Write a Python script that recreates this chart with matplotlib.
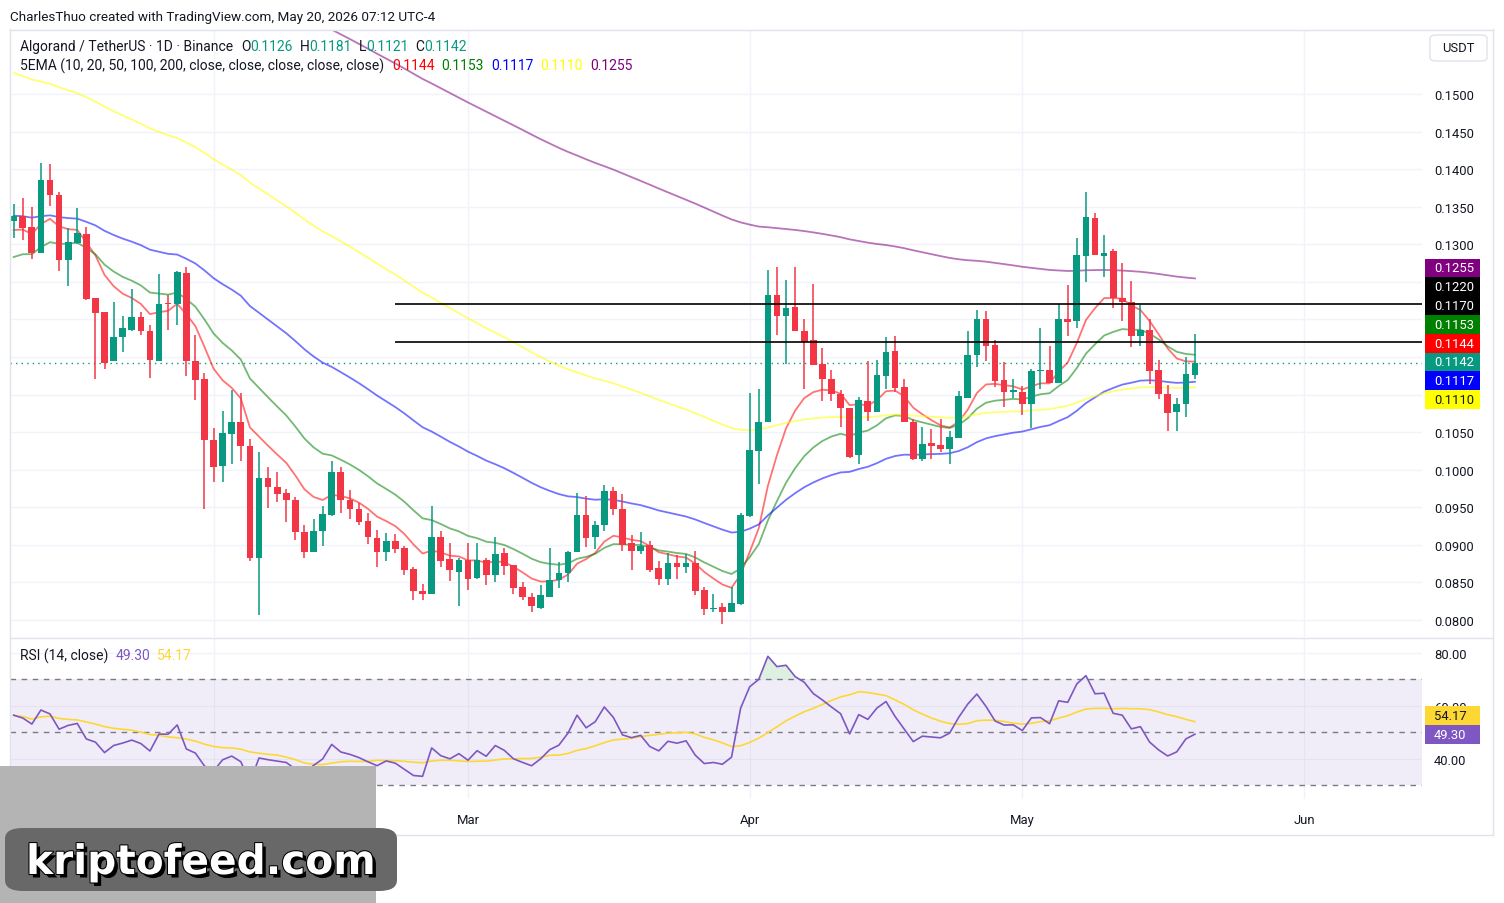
import numpy as np
import pandas as pd
import matplotlib
matplotlib.use("Agg")
import matplotlib.pyplot as plt
from matplotlib.patches import Rectangle, FancyBboxPatch
from matplotlib.lines import Line2D
import matplotlib.patheffects as pe

# ---------------- data (ALGO/USDT daily, Jan 10 - May 20 2026) ----------------
start_date = "2026-01-10"
opens = [0.1331,0.1337,0.1323,0.1288,0.1386,0.1366,0.1279,0.1302,0.1314,0.1229,
         0.1210,0.1144,0.1177,0.1186,0.1203,0.1185,0.1145,0.1221,0.1220,0.1262,
         0.1145,0.1121,0.1040,0.1005,0.1047,0.1063,0.1031,0.0883,0.0989,0.0977,
         0.0969,0.0960,0.0917,0.0890,0.0918,0.0940,0.0997,0.0960,0.0948,0.0932,
         0.0909,0.0891,0.0905,0.0896,0.0868,0.0839,0.0834,0.0910,0.0881,0.0864,
         0.0880,0.0856,0.0880,0.0860,0.0889,0.0873,0.0844,0.0831,0.0816,0.0831,
         0.0853,0.0862,0.0891,0.0940,0.0911,0.0926,0.0972,0.0948,0.0902,0.0892,
         0.0900,0.0869,0.0855,0.0876,0.0871,0.0876,0.0840,0.0815,0.0817,0.0811,
         0.0821,0.0939,0.1025,0.1064,0.1232,0.1204,0.1216,0.1185,0.1172,0.1141,
         0.1121,0.1101,0.1082,0.1019,0.1091,0.1077,0.1125,0.1158,0.1110,0.1064,
         0.1014,0.1036,0.1033,0.1028,0.1042,0.1096,0.1152,0.1201,0.1166,0.1119,
         0.1104,0.1104,0.1087,0.1131,0.1133,0.1116,0.1201,0.1198,0.1285,0.1335,
         0.1285,0.1291,0.1229,0.1223,0.1178,0.1186,0.1133,0.1101,0.1077,0.1088,
         0.1126]
highs = [0.1354,0.1362,0.1349,0.1408,0.1407,0.1370,0.1322,0.1348,0.1323,0.1229,
         0.1210,0.1223,0.1205,0.1240,0.1210,0.1193,0.1260,0.1232,0.1264,0.1270,
         0.1179,0.1129,0.1056,0.1078,0.1106,0.1102,0.1041,0.1024,0.1004,0.0997,
         0.0974,0.0963,0.0926,0.0934,0.0952,0.1012,0.1004,0.0973,0.0956,0.0943,
         0.0920,0.0916,0.0914,0.0899,0.0871,0.0848,0.0951,0.0918,0.0902,0.0883,
         0.0903,0.0902,0.0882,0.0911,0.0896,0.0873,0.0850,0.0836,0.0847,0.0896,
         0.0877,0.0892,0.0969,0.0965,0.0932,0.0980,0.0977,0.0968,0.0913,0.0917,
         0.0905,0.0878,0.0889,0.0886,0.0888,0.0892,0.0844,0.0835,0.0823,0.0844,
         0.0943,0.1102,0.1107,0.1266,0.1270,0.1252,0.1270,0.1201,0.1247,0.1162,
         0.1133,0.1106,0.1082,0.1097,0.1145,0.1146,0.1176,0.1178,0.1121,0.1068,
         0.1057,0.1054,0.1067,0.1051,0.1105,0.1185,0.1213,0.1211,0.1172,0.1143,
         0.1121,0.1112,0.1134,0.1189,0.1165,0.1221,0.1246,0.1309,0.1370,0.1342,
         0.1312,0.1294,0.1275,0.1251,0.1219,0.1200,0.1146,0.1113,0.1095,0.1150,
         0.1181]
lows = [0.1308,0.1306,0.1280,0.1288,0.1351,0.1264,0.1245,0.1300,0.1226,0.1121,
        0.1134,0.1144,0.1157,0.1185,0.1179,0.1122,0.1144,0.1186,0.1193,0.1125,
        0.1093,0.0948,0.0984,0.0983,0.1008,0.1012,0.0878,0.0807,0.0949,0.0957,
        0.0930,0.0906,0.0882,0.0890,0.0899,0.0939,0.0942,0.0934,0.0926,0.0901,
        0.0871,0.0878,0.0889,0.0860,0.0827,0.0827,0.0834,0.0871,0.0852,0.0818,
        0.0840,0.0854,0.0847,0.0851,0.0860,0.0835,0.0827,0.0811,0.0815,0.0831,
        0.0843,0.0850,0.0891,0.0897,0.0894,0.0918,0.0940,0.0892,0.0867,0.0888,
        0.0864,0.0847,0.0846,0.0855,0.0863,0.0833,0.0807,0.0810,0.0795,0.0810,
        0.0820,0.0937,0.0981,0.1064,0.1179,0.1141,0.1185,0.1108,0.1139,0.1092,
        0.1092,0.1057,0.1016,0.1008,0.1065,0.1077,0.1108,0.1104,0.1064,0.1013,
        0.1012,0.1014,0.1023,0.1008,0.1042,0.1096,0.1137,0.1145,0.1110,0.1083,
        0.1096,0.1073,0.1056,0.1108,0.1115,0.1116,0.1178,0.1189,0.1250,0.1286,
        0.1256,0.1215,0.1198,0.1163,0.1165,0.1114,0.1094,0.1052,0.1051,0.1070,
        0.1121]
closes = [0.1338,0.1322,0.1288,0.1386,0.1365,0.1279,0.1303,0.1315,0.1227,0.1208,
          0.1142,0.1177,0.1189,0.1203,0.1185,0.1146,0.1221,0.1220,0.1263,0.1144,
          0.1120,0.1039,0.1004,0.1049,0.1064,0.1031,0.0883,0.0989,0.0977,0.0968,
          0.0959,0.0917,0.0891,0.0918,0.0941,0.0997,0.0959,0.0947,0.0931,0.0910,
          0.0891,0.0905,0.0895,0.0867,0.0838,0.0834,0.0910,0.0879,0.0866,0.0880,
          0.0855,0.0880,0.0860,0.0888,0.0872,0.0843,0.0830,0.0818,0.0833,0.0853,
          0.0863,0.0891,0.0940,0.0909,0.0926,0.0972,0.0947,0.0900,0.0892,0.0898,
          0.0867,0.0854,0.0876,0.0871,0.0876,0.0839,0.0814,0.0816,0.0811,0.0823,
          0.0940,0.1026,0.1064,0.1232,0.1204,0.1215,0.1185,0.1170,0.1139,0.1121,
          0.1101,0.1082,0.1017,0.1093,0.1077,0.1126,0.1157,0.1109,0.1064,0.1014,
          0.1034,0.1031,0.1028,0.1043,0.1098,0.1153,0.1201,0.1165,0.1118,0.1104,
          0.1105,0.1087,0.1131,0.1132,0.1115,0.1201,0.1197,0.1286,0.1336,0.1286,
          0.1289,0.1229,0.1223,0.1178,0.1186,0.1132,0.1101,0.1076,0.1088,0.1127,
          0.1142]

ema_periods = [10, 20, 50, 100, 200]
ema_seeds = [0.1319, 0.1283, 0.1338, 0.1528, 0.1785]   # values read at first candle
ema_colors = ["#ff0000", "#008000", "#0000ff", "#ffff00", "#800080"]
ema_last = ["0.1144", "0.1153", "0.1117", "0.1110", "0.1255"]

hlevels = [0.1220, 0.1170]
hline_start = "2026-02-21"
last_price = 0.1142
ohlc_last = ["0.1126", "0.1181", "0.1121", "0.1142"]

rsi_period = 14
rsi_seed_gain, rsi_seed_loss = 0.00364, 0.0028
rsi_last = ["49.30", "54.17"]

price_ticks = [0.0800,0.0850,0.0900,0.0950,0.1000,0.1050,0.1100,0.1150,
               0.1200,0.1250,0.1300,0.1350,0.1400,0.1450,0.1500]
hidden_ticks = [0.1100, 0.1150, 0.1200, 0.1250]   # covered by value labels
month_labels = ["Feb", "Mar", "Apr", "May", "Jun"]
month_starts = ["2026-02-01", "2026-03-01", "2026-04-01", "2026-05-01", "2026-06-01"]

# ---------------- derived indicators ----------------
O = np.array(opens); Hh = np.array(highs); L = np.array(lows); C = np.array(closes)
n = len(C)
xs = np.arange(n)
d0 = pd.Timestamp(start_date)
def idx(d):
    return (pd.Timestamp(d) - d0).days

def ema(vals, period, seed):
    a = 2.0 / (period + 1)
    out = [seed]
    for v in vals[1:]:
        out.append(a * v + (1 - a) * out[-1])
    return np.array(out)

emas = [ema(C, p, s) for p, s in zip(ema_periods, ema_seeds)]

ag, al = rsi_seed_gain, rsi_seed_loss
rsi = [100 - 100 / (1 + ag / al)]
for i in range(1, n):
    ch = C[i] - C[i - 1]
    ag = (ag * (rsi_period - 1) + max(ch, 0)) / rsi_period
    al = (al * (rsi_period - 1) + max(-ch, 0)) / rsi_period
    rsi.append(100 - 100 / (1 + ag / al))
rsi = np.array(rsi)
rsi_ma = pd.Series(rsi).rolling(14, min_periods=1).mean().values

# ---------------- figure ----------------
W, H = 1504, 904
plt.rcParams["font.family"] = ["Roboto", "DejaVu Sans"]
fig = plt.figure(figsize=(W / 100, H / 100), dpi=100)
def fx(px): return px / W
def fy(py): return 1 - py / H

TXT = "#131722"
GRID = "#f0f3fa"
UP, DN = "#089981", "#f23645"

PX_LEFT, PX_RIGHT = 10, 1422
PX_PER_DAY = 9.087
X_MAR = 468
xl = idx("2026-03-01") + (PX_LEFT - X_MAR) / PX_PER_DAY
xr = idx("2026-03-01") + (PX_RIGHT - X_MAR) / PX_PER_DAY

ax = fig.add_axes([fx(PX_LEFT), fy(638), fx(PX_RIGHT) - fx(PX_LEFT), fy(31) - fy(638)])
ax2 = fig.add_axes([fx(PX_LEFT), fy(800), fx(PX_RIGHT) - fx(PX_LEFT), fy(639) - fy(800)])

mpos = [idx(d) for d in month_starts]
for a in (ax, ax2):
    a.set_xlim(xl, xr)
    for s in a.spines.values():
        s.set_visible(False)
    a.set_xticks(mpos)
    a.grid(True, color=GRID, lw=1)
    a.set_axisbelow(True)
    a.yaxis.tick_right()
    a.tick_params(axis="both", length=0, labelsize=9.4, labelcolor=TXT)

# price pane
ax.set_ylim(0.07773, 0.15852)
ax.set_yticks(price_ticks)
ax.set_yticklabels(["" if any(abs(t - h) < 1e-9 for h in hidden_ticks) else f"{t:.4f}"
                    for t in price_ticks])
ax.tick_params(axis="y", pad=8.5)
ax.tick_params(axis="x", labelbottom=False)

cols = [UP if c >= o else DN for o, c in zip(O, C)]
ax.vlines(xs, L, Hh, colors=cols, lw=1.1, zorder=3)
body = np.maximum(np.abs(C - O), 0.00014)
ax.bar(xs, body, bottom=np.minimum(O, C), width=0.74, color=cols, lw=0, zorder=4)

for e, c in zip(emas, ema_colors):
    ax.plot(xs, e, color=c, alpha=0.55, lw=1.3, zorder=2)

ax.hlines(hlevels, idx(hline_start), xr, colors="black", lw=1.2, zorder=5)
ax.axhline(last_price, color=UP, lw=1, ls=(0, (1, 3)), zorder=1)

# RSI pane
ax2.set_ylim(24.9, 85.66)
ax2.set_yticks([40, 60, 80])
ax2.set_yticklabels(["40.00", "60.00", "80.00"])
ax2.tick_params(axis="y", pad=8.5)
ax2.set_xticklabels(month_labels)
ax2.tick_params(axis="x", pad=10)
ax2.axhspan(30, 70, color="#7e57c2", alpha=0.1, lw=0)
for lv in (70, 50, 30):
    ax2.axhline(lv, color="#787b86", lw=1, ls=(0, (4, 4)))
ax2.fill_between(xs, 70, rsi, where=rsi > 70, interpolate=True, color="#4caf50", alpha=0.18, lw=0)
ax2.plot(xs, rsi_ma, color="#fdd835", lw=1.2)
ax2.plot(xs, rsi, color="#7e57c2", lw=1.2)

# borders
BORDER = "#e0e3eb"
for (x0, y0, x1, y1) in [(10, 30.5, 1493, 30.5), (10, 836, 1493, 836), (10, 30, 10, 836),
                         (1493, 30, 1493, 836), (10, 638.5, 1493, 638.5)]:
    fig.add_artist(Line2D([fx(x0), fx(x1)], [fy(y0), fy(y1)], color=BORDER, lw=1))

# header text
fig.text(fx(10), fy(17), "CharlesThuo created with TradingView.com, May 20, 2026 07:12 UTC-4",
         fontsize=9.7, color=TXT, va="center", ha="left")

renderer = fig.canvas.get_renderer()
def seg_text(x_px, y_px, parts, size=10):
    x = x_px
    for s, c, gap in parts:
        t = fig.text(fx(x), fy(y_px), s, color=c, fontsize=size, va="center", ha="left")
        bb = t.get_window_extent(renderer=renderer)
        x += bb.width + gap

seg_text(20, 47, [("Algorand / TetherUS · 1D · Binance", TXT, 8),
                  ("O", TXT, 0), (ohlc_last[0], UP, 7),
                  ("H", TXT, 0), (ohlc_last[1], UP, 7),
                  ("L", TXT, 0), (ohlc_last[2], UP, 7),
                  ("C", TXT, 0), (ohlc_last[3], UP, 0)])
parts = [("5EMA (10, 20, 50, 100, 200, close, close, close, close, close)", TXT, 8)]
for v, c in zip(ema_last, ema_colors):
    parts.append((v, c, 7))
seg_text(20, 66, parts)
seg_text(20, 656, [("RSI (14, close)", TXT, 7), (rsi_last[0], "#7e57c2", 7), (rsi_last[1], "#fdd835", 0)])

# right-side value labels
labels = [(ema_last[4], "#800080", "white"), (f"{hlevels[0]:.4f}", "black", "white"),
          (f"{hlevels[1]:.4f}", "black", "white"), (ema_last[1], "#008000", "white"),
          (ema_last[0], "#ff0000", "white"), (ohlc_last[3], UP, "white"),
          (ema_last[2], "#0000ff", "white"), (ema_last[3], "#ffff00", TXT)]
top, step = 259.5, 18.8
for k, (txt, bg, fg) in enumerate(labels):
    y0 = top + k * step
    fig.add_artist(Rectangle((fx(1425), fy(y0 + step)), fx(55), step / H, color=bg, lw=0, zorder=5))
    fig.text(fx(1434), fy(y0 + step / 2), txt, color=fg, fontsize=9.4, va="center", ha="left", zorder=6)

for txt, bg, fg, yc in [(rsi_last[1], "#fdd835", TXT, 716.5), (rsi_last[0], "#7e57c2", "white", 735.5)]:
    fig.add_artist(Rectangle((fx(1425), fy(yc + 9.5)), fx(55), 19 / H, color=bg, lw=0, zorder=5))
    fig.text(fx(1434), fy(yc), txt, color=fg, fontsize=9.4, va="center", ha="left", zorder=6)

# USDT button
fig.add_artist(FancyBboxPatch((fx(1430), fy(62)), fx(57), 26 / H,
                              boxstyle="round,pad=0,rounding_size=0.004",
                              ec=BORDER, fc="white", lw=1, zorder=5))
fig.text(fx(1458), fy(49), "USDT", fontsize=9.4, color=TXT, va="center", ha="center", zorder=6)

# watermark
fig.add_artist(Rectangle((0, 0), fx(376), (904 - 767) / H, color="#b4b4b4", lw=0, zorder=20))
fig.add_artist(FancyBboxPatch((fx(5), fy(892)), fx(392), 63 / H,
                              boxstyle="round,pad=0,rounding_size=0.012",
                              fc="#686868", ec="none", zorder=21))
fig.text(fx(201), fy(864), "kriptofeed.com", fontsize=29.3, fontweight="bold",
         family="DejaVu Sans", color="white", ha="center", va="center", zorder=22,
         path_effects=[pe.SimplePatchShadow(offset=(2.5, -2.5), shadow_rgbFace="black", alpha=1),
                       pe.Stroke(linewidth=1.5, foreground="black"), pe.Normal()])

fig.savefig("out.png", dpi=100)
